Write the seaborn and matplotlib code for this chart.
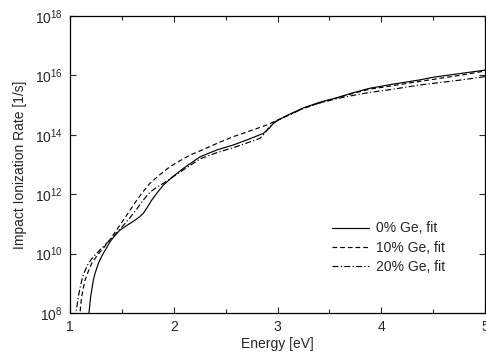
import matplotlib

matplotlib.use("Agg")

import matplotlib.pyplot as plt
import numpy as np
import pandas as pd
import seaborn as sns
from matplotlib.ticker import MultipleLocator, NullLocator


# values (energy in eV, rate as log10 of 1/s)
energy_0 = [1.178, 1.183, 1.199, 1.225, 1.24, 1.273, 1.30, 1.321, 1.35, 1.386, 1.43, 1.48,
            1.514, 1.57, 1.627, 1.667, 1.707, 1.745, 1.787, 1.84, 1.9, 2.0, 2.092, 2.253,
            2.414, 2.574, 2.72, 2.863, 2.92, 2.96, 3.0, 3.04, 3.12, 3.25, 3.4, 3.57, 3.73,
            3.89, 4.1, 4.37, 4.5, 4.75, 5.0]
log_rate_0 = [7.8, 8.0, 8.55, 9.11, 9.32, 9.67, 9.87, 10.01, 10.18, 10.40, 10.6, 10.79,
              10.87, 11.0, 11.13, 11.23, 11.36, 11.56, 11.80, 12.05, 12.31, 12.62, 12.87, 13.26,
              13.49, 13.66, 13.85, 14.05, 14.22, 14.39, 14.48, 14.56, 14.70, 14.91, 15.09, 15.25, 15.42,
              15.57, 15.70, 15.85, 15.94, 16.06, 16.18]

energy_10 = [1.092, 1.096, 1.112, 1.145, 1.17, 1.209, 1.25, 1.289, 1.33, 1.37, 1.44, 1.514,
             1.58, 1.643, 1.70, 1.771, 1.87, 1.964, 2.06, 2.157, 2.28, 2.414, 2.574, 2.74,
             2.896, 2.97, 3.04, 3.25, 3.4, 3.57, 3.73, 3.89, 4.1, 4.37, 4.75, 5.0]
log_rate_10 = [7.8, 8.0, 8.55, 9.11, 9.35, 9.67, 9.88, 10.06, 10.22, 10.40, 10.75, 11.13,
               11.47, 11.80, 12.07, 12.37, 12.67, 12.93, 13.13, 13.32, 13.5, 13.71, 13.94, 14.14,
               14.33, 14.45, 14.56, 14.90, 15.07, 15.24, 15.40, 15.54, 15.65, 15.80, 16.0, 16.15]

energy_20 = [1.055, 1.058, 1.08, 1.10, 1.122, 1.15, 1.177, 1.21, 1.257, 1.30, 1.353, 1.43,
             1.514, 1.58, 1.643, 1.70, 1.771, 1.83, 1.9, 2.092, 2.253, 2.414, 2.574, 2.70,
             2.83, 2.87, 2.91, 2.976, 3.04, 3.25, 3.4, 3.57, 3.73, 3.89, 4.1, 4.37, 4.75, 5.0]
log_rate_20 = [7.8, 8.0, 8.55, 8.9, 9.22, 9.47, 9.67, 9.83, 10.01, 10.17, 10.35, 10.62,
               10.95, 11.22, 11.5, 11.78, 12.07, 12.22, 12.37, 12.82, 13.19, 13.40, 13.57, 13.72,
               13.88, 14.02, 14.22, 14.44, 14.56, 14.89, 15.07, 15.22, 15.33, 15.43, 15.53, 15.68, 15.84, 15.96]

series_names = ["0% Ge, fit", "10% Ge, fit", "20% Ge, fit"]
y_ticks = [1e8, 1e10, 1e12, 1e14, 1e16, 1e18]


def _frame(energy, log_rate, name):
    return pd.DataFrame({
        "energy": energy,
        "rate": np.power(10.0, log_rate),
        "series": name,
    })


df = pd.concat([
    _frame(energy_0, log_rate_0, series_names[0]),
    _frame(energy_10, log_rate_10, series_names[1]),
    _frame(energy_20, log_rate_20, series_names[2]),
], ignore_index=True)

sns.set_theme(style="ticks")
plt.rcParams["font.family"] = ["Liberation Sans", "DejaVu Sans"]
plt.rcParams["mathtext.fontset"] = "custom"
plt.rcParams["mathtext.rm"] = "Liberation Sans"
plt.rcParams["mathtext.it"] = "Liberation Sans:italic"

fig = plt.figure(figsize=(4.86, 3.57), dpi=100)
ax = fig.add_axes([0.144, 0.123, 0.854, 0.832])

sns.lineplot(
    data=df, x="energy", y="rate", hue="series", style="series",
    hue_order=series_names, style_order=series_names,
    palette=["black"] * 3,
    dashes={series_names[0]: "", series_names[1]: (4, 2.5), series_names[2]: (5, 2, 1, 2)},
    estimator=None, sort=False, linewidth=0.85, ax=ax,
)

ax.set_yscale("log")
ax.set_xlim(1, 5)
ax.set_ylim(1e8, 1e18)
ax.set_yticks(y_ticks)
ax.yaxis.set_minor_locator(NullLocator())
ax.xaxis.set_major_locator(MultipleLocator(1))
ax.xaxis.set_minor_locator(MultipleLocator(0.5))
ax.tick_params(which="both", direction="in", top=True, right=True, labelsize=10, pad=5)
ax.tick_params(which="major", length=4, width=0.8)
ax.tick_params(which="minor", length=3, width=0.8)
for s in ax.spines.values():
    s.set_linewidth(0.9)
    s.set_color("black")

ax.set_xlabel("Energy [eV]", fontsize=10, labelpad=2)
ax.set_ylabel("Impact Ionization Rate [1/s]", fontsize=10, labelpad=6)

ax.legend(loc="center left", bbox_to_anchor=(0.6, 0.22), frameon=False,
          fontsize=10, handlelength=2.7, labelspacing=0.38, handletextpad=0.5)

fig.savefig("out.png", dpi=100)
